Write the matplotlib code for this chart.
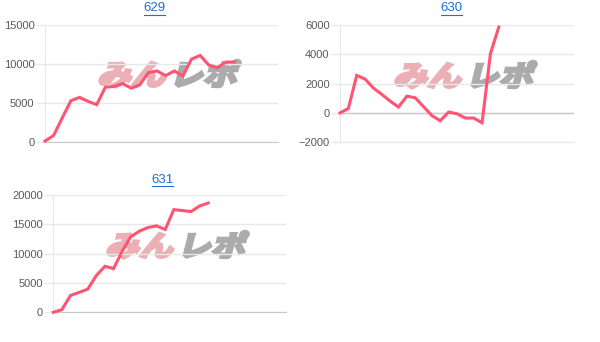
import matplotlib.pyplot as plt
from matplotlib.textpath import TextPath
from matplotlib.font_manager import FontProperties
from matplotlib.patches import PathPatch
from matplotlib.transforms import Affine2D, IdentityTransform

# values per day
titles = ['629', '630', '631']
v629 = [80, 800, 3050, 5250, 5680, 5170, 4750, 6990, 7080, 7460, 6860, 7290,
        8860, 9070, 8470, 9070, 8430, 10590, 11060, 9830, 9490, 10210, 10210]
v630 = [0, 300, 2550, 2300, 1690, 1260, 800, 400, 1140, 1030, 420, -190,
        -530, 60, -60, -350, -350, -670, 4030, 5840]
v631 = [0, 450, 2870, 3380, 3940, 6250, 7830, 7440, 10370, 12850, 13800,
        14420, 14700, 14080, 17460, 17300, 17130, 18090, 18590]
series = [v629, v630, v631]
xmax = [27, 28, 27]
yticks = [[0, 5000, 10000, 15000],
          [-2000, 0, 2000, 4000, 6000],
          [0, 5000, 10000, 15000, 20000]]

# layout in pixels: left, right, top, bottom of each plot area
boxes = [(45, 277.7, 24.7, 141.7), (340, 574, 24.7, 142.3), (53.3, 285.7, 194.7, 312.3)]
title_pos = [(154, 8), (451, 8), (162, 180)]
mark_pos = [(97, 85), (393, 86), (105, 256)]

W, H = 600, 342
fig = plt.figure(figsize=(6, 3.42), dpi=100)

line_color = '#ff5472'
grid_color = '#e8e8e8'
zero_color = '#c8c8c8'
link_color = '#1a6fd8'
fp = FontProperties(family=['Noto Sans CJK JP'], weight='bold')


def watermark(ax, x, y):
    for txt, col, dx in [('みん', '#ebb0b5', 0), ('レポ', '#ababab', 72)]:
        tp = TextPath((0, 0), txt, size=30, prop=fp)
        tr = Affine2D().scale(1.13, 0.95).skew_deg(14, 0).translate(x + dx, H - y)
        patch = PathPatch(tr.transform_path(tp), facecolor=col, edgecolor=col,
                          lw=2.2, transform=IdentityTransform(), zorder=1,
                          clip_on=False)
        ax.add_artist(patch)


for i, vals in enumerate(series):
    l, r, t, b = boxes[i]
    ax = fig.add_axes([l / W, (H - b) / H, (r - l) / W, (b - t) / H])
    ax.set_facecolor('none')
    ax.plot(range(len(vals)), vals, color=line_color, lw=2.2, zorder=5,
            solid_joinstyle='miter', clip_on=False)
    ax.set_xlim(0, xmax[i])
    ax.set_ylim(yticks[i][0], yticks[i][-1])
    ax.set_yticks(yticks[i])
    ax.set_xticks([])
    ax.grid(axis='y', color=grid_color, lw=1)
    if yticks[i][0] < 0:
        ax.axhline(0, color=zero_color, lw=1, zorder=2)
    ax.tick_params(axis='y', length=6.5, width=1, color=grid_color, pad=1,
                   labelsize=8, labelcolor='#5a5a5a')
    for lab in ax.get_yticklabels():
        lab.set_family('Liberation Sans')
    for s in ['top', 'right']:
        ax.spines[s].set_visible(False)
    ax.spines['left'].set_color(grid_color)
    ax.spines['bottom'].set_color(zero_color if yticks[i][0] == 0 else grid_color)
    tx, ty = title_pos[i]
    fig.text(tx / W, 1 - ty / H, titles[i], ha='center', va='center',
             fontsize=9.5, color=link_color, family='Liberation Sans')
    # underline like a link
    fig.add_artist(plt.Line2D([(tx - 10.5) / W, (tx + 10.5) / W],
                              [1 - (ty + 6.5) / H, 1 - (ty + 6.5) / H],
                              color=link_color, lw=0.8))
    watermark(ax, *mark_pos[i])

fig.savefig('out.png', dpi=100)
